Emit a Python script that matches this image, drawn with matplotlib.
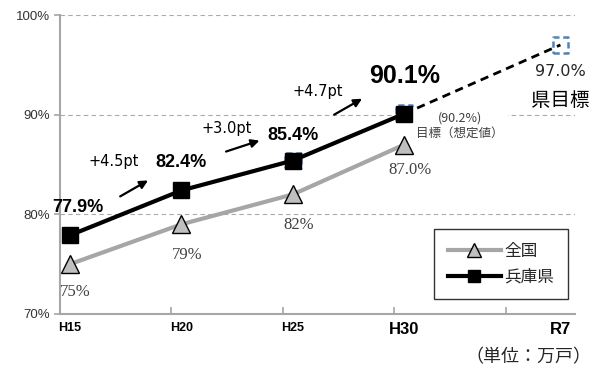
import numpy as np
import matplotlib
matplotlib.use("Agg")
import matplotlib.pyplot as plt

plt.rcParams['font.family'] = ['Noto Sans CJK JP', 'DejaVu Sans']

# Survey years and their horizontal positions (R7 sits further out)
years = ["H15", "H20", "H25", "H30", "R7"]
x_pos = [0, 1, 2, 3, 4.4]

hyogo = [77.9, 82.4, 85.4, 90.1]
national = [75, 79, 82, 87.0]
targets = [np.nan, np.nan, 85.4, 90.2, 97.0]

hyogo_labels = ["77.9%", "82.4%", "85.4%", "90.1%"]
national_labels = ["75%", "79%", "82%", "87.0%"]
gains = ["+4.5pt", "+3.0pt", "+4.7pt"]

y_ticks = [70, 80, 90, 100]

sans = ['Liberation Sans', 'DejaVu Sans']
serif = ['Liberation Serif', 'Noto Sans CJK JP']

fig = plt.figure(figsize=(5.97, 3.76), dpi=100)
ax = fig.add_axes([0.1005, 0.165, 0.8625, 0.795])
ax.set_xlim(-0.09, 4.53)
ax.set_ylim(70, 100)

# grid and axes
for v in [80, 90, 100]:
    ax.axhline(v, color="#aaaaaa", lw=0.8, ls=(0, (4, 3)), zorder=0)
for s in ["top", "right"]:
    ax.spines[s].set_visible(False)
for s in ["left", "bottom"]:
    ax.spines[s].set_color("#a6a6a6")
    ax.spines[s].set_linewidth(1.5)

ax.set_yticks(y_ticks)
ax.set_yticklabels([f"{v}%" for v in y_ticks], family=sans, fontsize=9.5, color="#333333")
ax.tick_params(axis="y", length=4, color="#a6a6a6", width=1.2, pad=3)

ax.set_xticks(x_pos)
ax.set_xticklabels(years, family=sans, fontweight="bold")
for lbl, size in zip(ax.get_xticklabels(), [9, 9, 9, 12, 12]):
    lbl.set_fontsize(size)
ax.tick_params(axis="x", length=0, pad=6)
ax.set_xticks([0.91, 1.91, 2.91, 3.91], minor=True)
ax.tick_params(axis="x", which="minor", length=5, color="#a6a6a6", width=1.2, direction="in")

# target markers (dashed blue outline)
tx = [x for x, t in zip(x_pos, targets) if not np.isnan(t)]
tv = [t for t in targets if not np.isnan(t)]
ax.scatter(tx, tv, marker="s", s=130, facecolors="white", edgecolors="#4f81bd",
           linewidths=1.8, linestyles=(0, (2.5, 1.5)), zorder=3)

# national series
ax.plot(x_pos[:4], national, color="#a6a6a6", lw=3, marker="^", ms=13,
        mfc="#bfbfbf", mec="black", mew=1.0, zorder=4, label="全国")
# Hyogo series
ax.plot(x_pos[3:5], [hyogo[3], targets[4]], color="black", lw=2, ls=(0, (3, 2)), zorder=4)
ax.plot(x_pos[:4], hyogo, color="black", lw=3, marker="s", ms=11,
        mfc="black", mec="black", zorder=5, label="兵庫県")

# Hyogo value labels
h_off = [(0.07, 2.8), (0.0, 2.8), (0.0, 2.5), (0.0, 3.8)]
h_size = [13, 13, 13, 18]
for x, v, t, (dx, dy), fs in zip(x_pos, hyogo, hyogo_labels, h_off, h_size):
    ax.text(x + dx, v + dy, t, ha="center", va="center", family=sans,
            fontweight="bold", fontsize=fs, zorder=6)

# national value labels
n_off = [-2.8, -3.1, -3.1, -2.6]
for x, v, t, dy in zip(x_pos, national, national_labels, n_off):
    ax.text(x + 0.05, v + dy, t, ha="center", va="center", family=serif,
            fontsize=12, color="#404040", zorder=6)

# gain annotations with arrows
gain_txt = [(0.39, 85.3), (1.41, 88.6), (2.22, 92.3)]
arrows = [((0.45, 81.8), (0.70, 83.4)), ((1.40, 86.3), (1.70, 87.4)),
          ((2.37, 90.0), (2.62, 91.6))]
for t, (gx, gy), (a0, a1) in zip(gains, gain_txt, arrows):
    ax.text(gx, gy, t, ha="center", va="center", family=['DejaVu Sans'],
            fontsize=10.5, zorder=6)
    ax.annotate("", xy=a1, xytext=a0,
                arrowprops=dict(arrowstyle="-|>", color="black", lw=1.6,
                                mutation_scale=12, shrinkA=0, shrinkB=0), zorder=6)

# target annotations
ax.text(3.50, 88.9, "(90.2%)\n目標（想定値）", ha="center", va="center",
        fontsize=9, color="#404040", zorder=3.5, linespacing=1.25,
        bbox=dict(boxstyle="square,pad=0.35", fc="white", ec="none"))
ax.text(4.4, 94.3, "97.0%", ha="center", va="center", family=['DejaVu Sans'],
        fontsize=11.5, color="#262626", zorder=6)
ax.text(4.4, 91.4, "県目標", ha="center", va="center", fontsize=14,
        color="black", zorder=6)

# legend
leg = ax.legend(loc="lower right", bbox_to_anchor=(0.986, 0.05), frameon=True,
                fancybox=False, edgecolor="black", handlelength=3.2,
                handletextpad=0.2, borderpad=0.8, labelspacing=0.55,
                borderaxespad=0,
                prop={"family": ["Noto Sans CJK JP"], "size": 12},
                markerscale=0.75)
leg.get_frame().set_linewidth(1.0)
for txt in leg.get_texts():
    txt.set_color("#262626")

fig.text(0.885, 0.05, "（単位：万戸）", ha="center", va="center", fontsize=13,
         color="#262626")

fig.savefig("out.png", dpi=100)
